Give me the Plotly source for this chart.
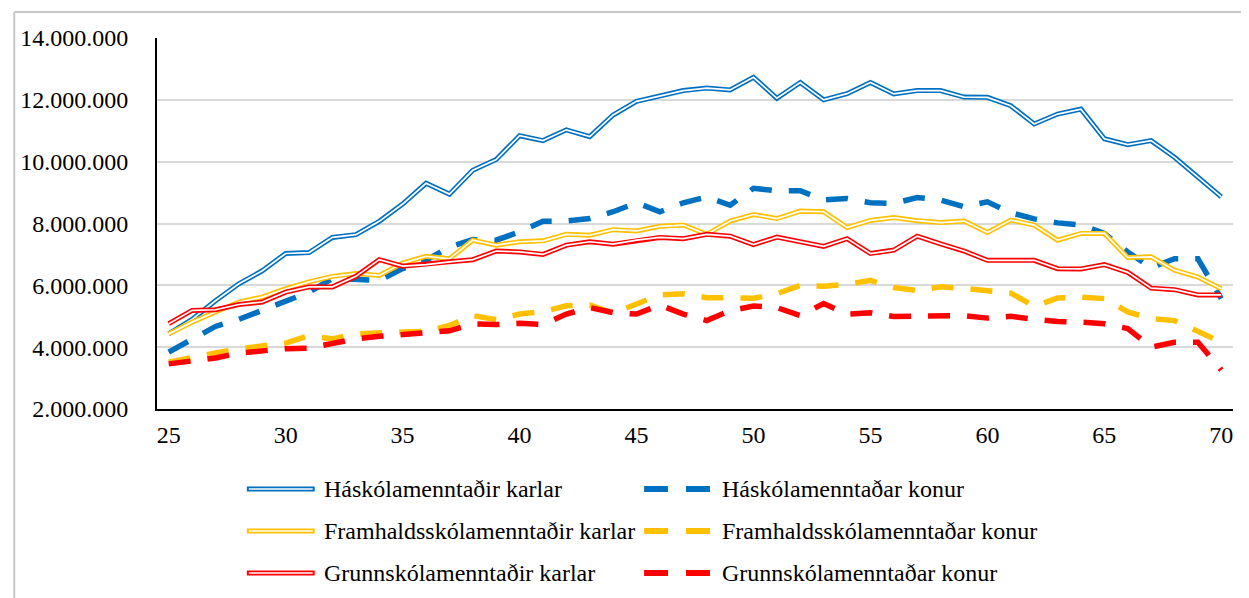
import plotly.graph_objects as go

ages = list(range(25, 71))

# values in millions ISK
hask_karlar = [4.43, 4.90, 5.50, 6.05, 6.47, 7.03, 7.06, 7.55, 7.64, 8.07,
               8.63, 9.30, 8.95, 9.72, 10.07, 10.84, 10.68, 11.03, 10.81, 11.51,
               11.95, 12.13, 12.30, 12.38, 12.32, 12.73, 12.05, 12.56, 12.00, 12.20,
               12.56, 12.19, 12.30, 12.30, 12.09, 12.08, 11.81, 11.22, 11.54, 11.70,
               10.74, 10.55, 10.68, 10.14, 9.49, 8.86]
hask_konur = [3.84, 4.27, 4.67, 4.90, 5.19, 5.45, 5.78, 6.22, 6.18, 6.16,
              6.54, 6.81, 7.24, 7.48, 7.46, 7.73, 8.07, 8.08, 8.16, 8.38,
              8.67, 8.38, 8.67, 8.86, 8.59, 9.14, 9.06, 9.06, 8.76, 8.81,
              8.67, 8.65, 8.84, 8.76, 8.54, 8.70, 8.35, 8.15, 8.02, 7.95,
              7.68, 7.08, 6.57, 6.86, 6.86, 5.57]
fram_karlar = [4.43, 4.81, 5.14, 5.46, 5.62, 5.89, 6.11, 6.29, 6.38, 6.32,
               6.72, 6.94, 6.86, 7.46, 7.30, 7.41, 7.44, 7.65, 7.62, 7.80,
               7.76, 7.91, 7.95, 7.65, 8.08, 8.29, 8.16, 8.40, 8.38, 7.87,
               8.10, 8.19, 8.09, 8.03, 8.08, 7.71, 8.11, 7.95, 7.46, 7.68,
               7.68, 6.90, 6.92, 6.49, 6.27, 5.89]
fram_konur = [3.51, 3.68, 3.81, 3.95, 4.04, 4.13, 4.37, 4.27, 4.43, 4.44,
              4.49, 4.51, 4.70, 5.02, 4.89, 5.07, 5.15, 5.34, 5.36, 5.10,
              5.39, 5.69, 5.73, 5.60, 5.60, 5.58, 5.73, 6.00, 5.97, 6.03,
              6.16, 5.93, 5.83, 5.95, 5.90, 5.81, 5.75, 5.32, 5.59, 5.62,
              5.57, 5.14, 4.92, 4.86, 4.49, 4.16]
grunn_karlar = [4.76, 5.19, 5.21, 5.38, 5.46, 5.78, 5.95, 5.95, 6.29, 6.83,
                6.62, 6.67, 6.76, 6.83, 7.11, 7.08, 7.00, 7.30, 7.41, 7.33,
                7.46, 7.55, 7.51, 7.65, 7.59, 7.32, 7.56, 7.41, 7.26, 7.51,
                7.03, 7.14, 7.59, 7.34, 7.11, 6.81, 6.81, 6.81, 6.54, 6.53,
                6.67, 6.42, 5.91, 5.86, 5.69, 5.69]
grunn_konur = [3.46, 3.55, 3.65, 3.81, 3.89, 3.95, 3.97, 4.14, 4.27, 4.35,
               4.41, 4.46, 4.53, 4.75, 4.73, 4.77, 4.73, 5.07, 5.28, 5.12,
               5.07, 5.36, 5.07, 4.86, 5.18, 5.33, 5.28, 5.02, 5.41, 5.07,
               5.11, 4.99, 4.99, 5.00, 5.02, 4.94, 5.00, 4.90, 4.83, 4.81,
               4.76, 4.60, 4.00, 4.16, 4.16, 3.26]

names = ["Háskólamenntaðir karlar", "Háskólamenntaðar konur",
         "Framhaldsskólamenntaðir karlar", "Framhaldsskólamenntaðar konur",
         "Grunnskólamenntaðir karlar", "Grunnskólamenntaðar konur"]
series = [hask_karlar, hask_konur, fram_karlar, fram_konur, grunn_karlar, grunn_konur]
colors = ["#0070C0", "#0070C0", "#FFC000", "#FFC000", "#FF0000", "#FF0000"]
is_double = [True, False, True, False, True, False]

FONT = "Liberation Serif, Times New Roman, DejaVu Serif, serif"
FS = 24
W, H = 1249, 598
OFF = 8  # page body margin
L, T = 147, 30
PW, PH = 1078, 371
R = W - L - PW
B = H - T - PH

fig = go.Figure()
for name, vals, col, dbl in zip(names, series, colors, is_double):
    y = [v * 1e6 for v in vals]
    if dbl:
        fig.add_trace(go.Scatter(x=ages, y=y, mode="lines", name=name,
                                 line=dict(color=col, width=5), showlegend=False))
        fig.add_trace(go.Scatter(x=ages, y=y, mode="lines", name=name,
                                 line=dict(color="white", width=1.7), showlegend=False,
                                 hoverinfo="skip"))
    else:
        fig.add_trace(go.Scatter(x=ages, y=y, mode="lines", name=name,
                                 line=dict(color=col, width=5.5, dash="22px,17px"),
                                 showlegend=False))


def px2x(px):
    return (px - OFF - L) / PW


def py2y(py):
    return (T + PH - (py - OFF)) / PH


shapes = []
annotations = []
rows = [489, 531, 573]
for i in range(3):
    yk = py2y(rows[i])
    col = colors[2 * i]
    shapes.append(dict(type="line", xref="paper", yref="paper",
                       x0=px2x(245), x1=px2x(313), y0=yk, y1=yk,
                       line=dict(color=col, width=5)))
    shapes.append(dict(type="line", xref="paper", yref="paper",
                       x0=px2x(247), x1=px2x(311), y0=yk, y1=yk,
                       line=dict(color="white", width=1.7)))
    annotations.append(dict(text=names[2 * i], xref="paper", yref="paper",
                            x=px2x(320), y=yk, xanchor="left", yanchor="middle",
                            showarrow=False, font=dict(family=FONT, size=FS, color="black")))
    col = colors[2 * i + 1]
    for a, b in [(643, 667), (685, 709)]:
        shapes.append(dict(type="line", xref="paper", yref="paper",
                           x0=px2x(a), x1=px2x(b), y0=yk, y1=yk,
                           line=dict(color=col, width=6)))
    annotations.append(dict(text=names[2 * i + 1], xref="paper", yref="paper",
                            x=px2x(719), y=yk, xanchor="left", yanchor="middle",
                            showarrow=False, font=dict(family=FONT, size=FS, color="black")))

# chart-area border (left and top edges visible)
shapes.append(dict(type="line", xref="paper", yref="paper",
                   x0=px2x(12), x1=px2x(12), y0=py2y(12), y1=py2y(700),
                   line=dict(color="#C8C8C8", width=2)))
shapes.append(dict(type="line", xref="paper", yref="paper",
                   x0=px2x(12), x1=px2x(1300), y0=py2y(12), y1=py2y(12),
                   line=dict(color="#C8C8C8", width=2)))

fig.update_layout(
    width=W, height=H,
    margin=dict(l=L, r=R, t=T, b=B, pad=0),
    paper_bgcolor="white", plot_bgcolor="white",
    separators=",.",
    font=dict(family=FONT, size=FS, color="black"),
    showlegend=False,
    shapes=shapes,
    annotations=annotations,
)
fig.update_xaxes(range=[24.5, 70.5], tickvals=list(range(25, 71, 5)),
                 showgrid=False, zeroline=False, showline=True,
                 linecolor="black", linewidth=2, ticks="",
                 ticklabelstandoff=3,
                 tickfont=dict(family=FONT, size=FS, color="black"))
fig.update_yaxes(range=[2e6, 14e6], dtick=2e6, tickformat=",d",
                 showgrid=True, gridcolor="#D9D9D9", gridwidth=1.5,
                 zeroline=False, showline=True, linecolor="black", linewidth=2,
                 ticks="", ticklabelstandoff=22,
                 tickfont=dict(family=FONT, size=FS, color="black"))

fig.write_html("out.html")
